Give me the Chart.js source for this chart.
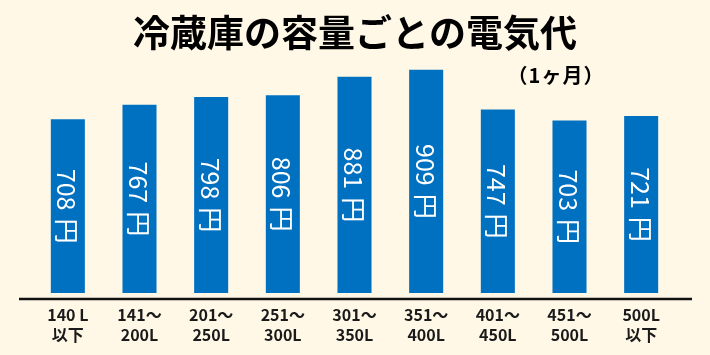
<!DOCTYPE html>
<html><head><meta charset="utf-8">
<script src="https://cdn.jsdelivr.net/npm/chart.js@4"></script>
<style>html,body{margin:0;padding:0;background:#FFF8E7;}#wrap{width:710px;height:355px;}</style>
</head><body><div id="wrap"><canvas id="c" width="710" height="355"></canvas></div>
<script>
const titleText = "冷蔵庫の容量ごとの電気代";
const subtitleText = "（1ヶ月）";
const categories = [["140 L","以下"],["141～","200L"],["201～","250L"],["251～","300L"],["301～","350L"],["351～","400L"],["401～","450L"],["451～","500L"],["500L","以下"]];
const costs = [708, 767, 798, 806, 881, 909, 747, 703, 721];
const unit = "円";

const JP = '"Noto Sans CJK JP", "Noto Sans", sans-serif';

const bgPlugin = {
  id: 'bg',
  beforeDraw(chart) {
    const ctx = chart.ctx;
    ctx.save();
    ctx.fillStyle = '#FFF8E7';
    ctx.fillRect(0, 0, chart.width, chart.height);
    ctx.restore();
  }
};

const decoPlugin = {
  id: 'deco',
  afterDatasetsDraw(chart) {
    const ctx = chart.ctx;
    ctx.save();
    // titles
    ctx.fillStyle = '#000';
    ctx.textAlign = 'center';
    ctx.textBaseline = 'middle';
    ctx.font = 'bold 37px ' + JP;
    ctx.fillText(titleText, 355, 33);
    ctx.font = 'bold 20px ' + JP;
    if ('letterSpacing' in ctx) ctx.letterSpacing = '1px';
    ctx.fillText(subtitleText, 556, 75);
    if ('letterSpacing' in ctx) ctx.letterSpacing = '0px';
    // axis line
    ctx.strokeStyle = '#111';
    ctx.lineWidth = 2.5;
    ctx.beginPath();
    ctx.moveTo(19, 299);
    ctx.lineTo(692, 299);
    ctx.stroke();
    // value labels (rotated, number + gap + unit)
    const meta = chart.getDatasetMeta(0);
    ctx.fillStyle = '#fff';
    ctx.font = '400 25px ' + JP;
    const gap = 8;
    meta.data.forEach((bar, i) => {
      const cy = (bar.y + bar.base) / 2;
      const num = String(costs[i]);
      const wn = ctx.measureText(num).width;
      const wu = ctx.measureText(unit).width;
      const total = wn + gap + wu;
      ctx.save();
      ctx.translate(bar.x, cy);
      ctx.rotate(Math.PI / 2);
      ctx.textAlign = 'left';
      ctx.textBaseline = 'middle';
      ctx.fillText(num, -total / 2, 1);
      ctx.fillText(unit, -total / 2 + wn + gap, 1);
      ctx.restore();
    });
    ctx.restore();
  }
};

new Chart(document.getElementById('c'), {
  type: 'bar',
  data: {
    labels: categories,
    datasets: [{
      data: costs,
      backgroundColor: '#0070C0',
      borderWidth: 0,
      categoryPercentage: 1,
      barPercentage: 0.475
    }]
  },
  options: {
    responsive: false,
    animation: false,
    devicePixelRatio: 1,
    layout: { padding: { left: 32, right: 33, top: 47.5, bottom: 0 } },
    plugins: { legend: { display: false }, title: { display: false }, tooltip: { enabled: false } },
    scales: {
      x: {
        grid: { display: false, drawTicks: false },
        border: { display: false },
        ticks: {
          color: '#1a1a1a',
          font: { family: JP, size: 16, weight: 'bold', lineHeight: 1.25 },
          padding: 12,
          maxRotation: 0,
          autoSkip: false
        },
        afterFit(scale) { scale.height = 62; }
      },
      y: {
        display: false,
        min: 0,
        max: 1000
      }
    }
  },
  plugins: [bgPlugin, decoPlugin]
});
</script>
</body></html>
